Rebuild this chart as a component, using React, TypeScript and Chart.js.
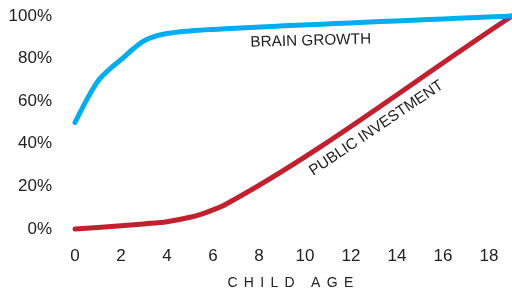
import { useEffect, useRef } from 'react';
import { Chart, registerables } from 'chart.js';

Chart.register(...registerables);

// Brain growth curve (percent of adult level) by child age
const brainAges = [0, 0.5, 1, 1.5, 2, 2.5, 3, 3.5, 4, 5, 6, 19];
const brainGrowth = [50, 60.5, 69.5, 75, 79.5, 84.3, 88.3, 90.5, 91.8, 93, 93.7, 100];

// Public investment curve (percent) by child age
const investAges = [0, 1, 2, 3, 4, 5, 5.5, 6, 6.5, 19];
const publicInvestment = [0, 0.7, 1.5, 2.4, 3.4, 5.5, 7, 9, 11.3, 100];

const xTickValues = [0, 2, 4, 6, 8, 10, 12, 14, 16, 18];
const yTickValues = [0, 20, 40, 60, 80, 100];
const xAxisTitle = 'CHILD AGE';

const seriesLabels = [
  { text: 'BRAIN GROWTH', x: 10.25, y: 88.3, angle: -1.6 },
  { text: 'PUBLIC INVESTMENT', x: 13.1, y: 47.3, angle: -34 },
];

const FONT = '"Liberation Sans", Arial, Helvetica, sans-serif';
const BLUE = '#00AEEF';
const RED = '#C1202F';
const TEXT = '#222222';

const labelPlugin = {
  id: 'seriesLabels',
  afterDatasetsDraw(chart: any) {
    const { ctx, scales, chartArea } = chart;
    const xs = scales.x;
    const ys = scales.y;
    ctx.save();
    ctx.fillStyle = TEXT;
    ctx.textAlign = 'center';
    ctx.textBaseline = 'middle';
    ctx.font = `15.3px ${FONT}`;
    for (const l of seriesLabels) {
      ctx.save();
      ctx.translate(xs.getPixelForValue(l.x), ys.getPixelForValue(l.y));
      ctx.rotate((l.angle * Math.PI) / 180);
      ctx.fillText(l.text, 0, 0);
      ctx.restore();
    }
    ctx.font = `14px ${FONT}`;
    (ctx as any).letterSpacing = '6.3px';
    ctx.fillText(xAxisTitle, (chartArea.left + chartArea.right) / 2, chart.height - 8);
    ctx.restore();
  },
};

export default function App() {
  const ref = useRef<HTMLCanvasElement | null>(null);

  useEffect(() => {
    document.body.style.margin = '0';
    if (!ref.current) return;
    const chart = new Chart(ref.current, {
      type: 'line',
      data: {
        datasets: [
          {
            label: 'Brain growth',
            data: brainAges.map((a, i) => ({ x: a, y: brainGrowth[i] })),
            borderColor: BLUE,
            backgroundColor: BLUE,
            borderWidth: 5,
            borderCapStyle: 'round',
            borderJoinStyle: 'round',
            pointRadius: 0,
            cubicInterpolationMode: 'monotone',
            clip: false as any,
          },
          {
            label: 'Public investment',
            data: investAges.map((a, i) => ({ x: a, y: publicInvestment[i] })),
            borderColor: RED,
            backgroundColor: RED,
            borderWidth: 5,
            borderCapStyle: 'round',
            borderJoinStyle: 'round',
            pointRadius: 0,
            cubicInterpolationMode: 'monotone',
            clip: false as any,
          },
        ],
      },
      options: {
        animation: false,
        responsive: false,
        devicePixelRatio: 1,
        layout: { padding: { top: 16, right: 0, bottom: 0, left: 0 } },
        plugins: {
          legend: { display: false },
          tooltip: { enabled: false },
        },
        scales: {
          x: {
            type: 'linear',
            min: 0,
            max: 19,
            grid: { display: false, drawTicks: true, tickLength: 17 },
            border: { display: false },
            afterBuildTicks: (s: any) => {
              s.ticks = xTickValues.map((v) => ({ value: v }));
            },
            afterFit: (s: any) => {
              s.height = 62;
            },
            ticks: {
              padding: 0,
              color: TEXT,
              font: { family: FONT, size: 17 },
              maxRotation: 0,
              autoSkip: false,
            },
          },
          y: {
            type: 'linear',
            min: 0,
            max: 100,
            grid: { display: false, drawTicks: true, tickLength: 23 },
            border: { display: false },
            afterBuildTicks: (s: any) => {
              s.ticks = yTickValues.map((v) => ({ value: v }));
            },
            afterFit: (s: any) => {
              s.width = 75;
            },
            ticks: {
              padding: 0,
              color: TEXT,
              font: { family: FONT, size: 17 },
              callback: (v: any) => `${v}%`,
            },
          },
        },
      },
      plugins: [labelPlugin],
    });
    return () => chart.destroy();
  }, []);

  return (
    <div style={{ position: 'absolute', left: 0, top: 0, width: 512, height: 291 }}>
      <canvas ref={ref} width={512} height={291} style={{ display: 'block' }} />
    </div>
  );
}
